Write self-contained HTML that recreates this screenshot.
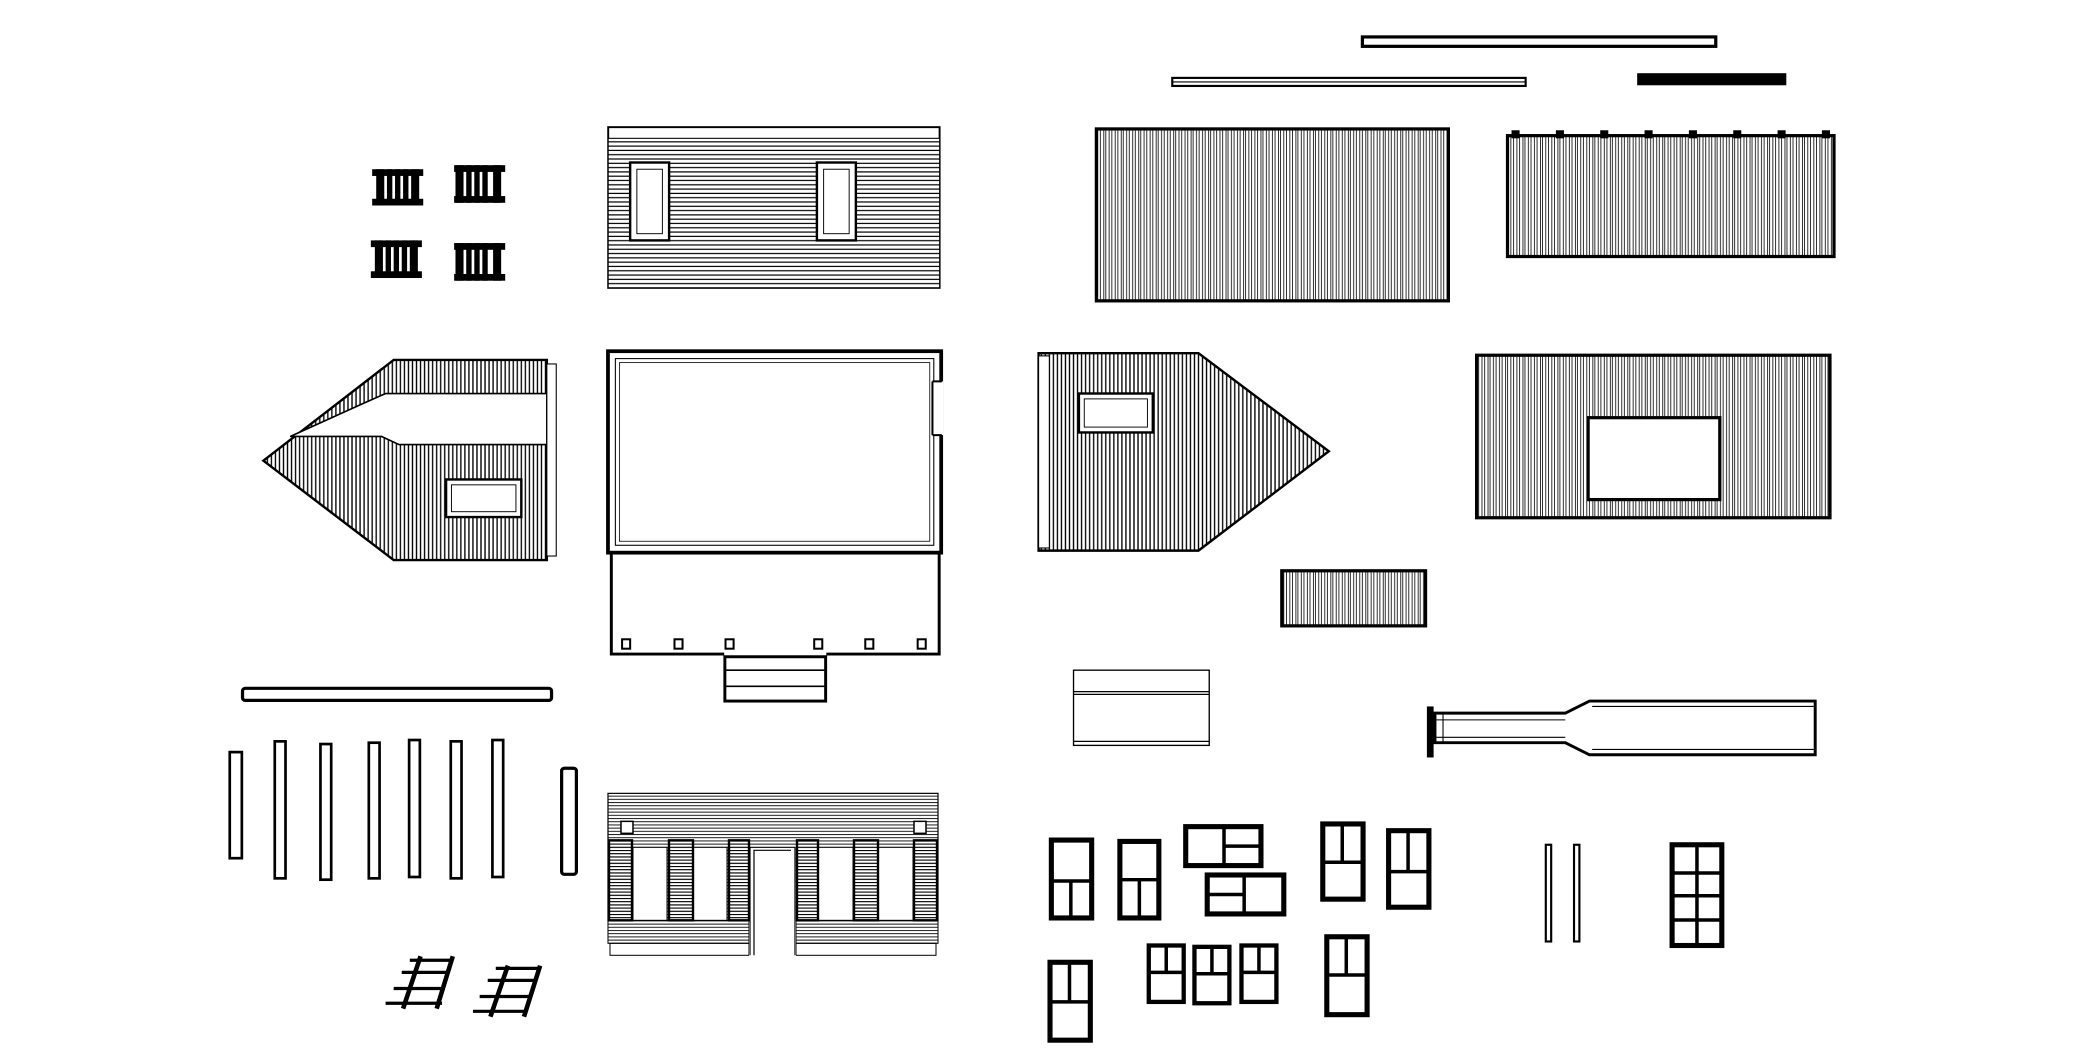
<!DOCTYPE html>
<html><head><meta charset="utf-8"><style>html,body{margin:0;padding:0;background:#fff}svg{display:block}</style></head>
<body>
<svg width="2096" height="1061" viewBox="0 0 1560 790" preserveAspectRatio="none" xmlns="http://www.w3.org/2000/svg">
<defs>
<pattern id="vh" width="13" height="10" patternUnits="userSpaceOnUse">
<path d="M1 0V10M3 0V10M5.5 0V10M7 0V10M9.5 0V10M11.5 0V10" stroke="#000" stroke-width="0.6"/>
</pattern>
<pattern id="vd" width="3" height="10" patternUnits="userSpaceOnUse">
<path d="M1 0V10" stroke="#000" stroke-width="1"/>
</pattern>
<pattern id="hh" width="10" height="3.2" patternUnits="userSpaceOnUse">
<path d="M0 1H10" stroke="#000" stroke-width="0.9"/>
</pattern>
</defs>
<g transform="translate(-3,-1)">
<g fill="none" stroke="#000">
<!-- top bars -->
<rect x="1017" y="28.5" width="263" height="7" stroke-width="2.4"/>
<rect x="875.5" y="59" width="263" height="6" stroke-width="1.6"/>
<line x1="876" y1="62" x2="1138" y2="62" stroke-width="0.8"/>
<rect x="1222" y="56" width="110" height="8" fill="#000"/>
<!-- panel A -->
<rect x="819" y="97" width="262" height="128" fill="url(#vh)" stroke-width="2.4"/>
<!-- panel B -->
<rect x="1125" y="102" width="243" height="90" fill="url(#vh)" stroke-width="2.4"/>
<g fill="#000" stroke="none">
<rect x="1128" y="98" width="6" height="6"/><rect x="1161" y="98" width="6" height="6"/><rect x="1194" y="98" width="6" height="6"/><rect x="1227" y="98" width="6" height="6"/><rect x="1260" y="98" width="6" height="6"/><rect x="1293" y="98" width="6" height="6"/><rect x="1326" y="98" width="6" height="6"/><rect x="1359" y="98" width="6" height="6"/>
</g>
<!-- small black windows -->
<g fill="#000" stroke="none">
<g transform="translate(280,127)"><rect width="38" height="5"/><rect y="22" width="38" height="5"/><rect x="3" width="6" height="27"/><rect x="11" width="4" height="27"/><rect x="17" width="4" height="27"/><rect x="23" width="4" height="27"/><rect x="29" width="6" height="27"/></g>
<g transform="translate(341,124)"><rect width="38" height="5"/><rect y="23" width="38" height="5"/><rect x="1" width="6" height="28"/><rect x="9" width="4" height="28"/><rect x="15" width="4" height="28"/><rect x="21" width="4" height="28"/><rect x="29" width="6" height="28"/></g>
<g transform="translate(279,180)"><rect width="38" height="5"/><rect y="23" width="38" height="5"/><rect x="3" width="6" height="28"/><rect x="11" width="4" height="28"/><rect x="17" width="4" height="28"/><rect x="23" width="4" height="28"/><rect x="29" width="6" height="28"/></g>
<g transform="translate(341,182)"><rect width="38" height="5"/><rect y="23" width="38" height="5"/><rect x="1" width="6" height="28"/><rect x="9" width="4" height="28"/><rect x="15" width="4" height="28"/><rect x="21" width="4" height="28"/><rect x="29" width="6" height="28"/></g>
</g>
<!-- wall panel with two windows -->
<rect x="455.5" y="95.5" width="247" height="120" fill="url(#hh)" stroke-width="1.1"/>
<rect x="456" y="96" width="246" height="8" fill="#fff" stroke-width="0.8"/>
<rect x="472" y="122" width="29" height="58" fill="#fff" stroke-width="1.8"/>
<rect x="477" y="127" width="19" height="48" stroke-width="0.7"/>
<rect x="611" y="122" width="29" height="58" fill="#fff" stroke-width="1.8"/>
<rect x="616" y="127" width="19" height="48" stroke-width="0.7"/>
<!-- left gable -->
<polygon points="199,344 296,269 410,269 410,418 296,418" fill="url(#vd)" stroke-width="1.8"/>
<polygon points="410,294 290,294 272,302 219,326 287,326 300,332 410,332" fill="#fff" stroke-width="1.2"/>
<rect x="410" y="272" width="7" height="143" fill="#fff" stroke-width="0.8"/>
<rect x="335" y="358" width="56" height="28" fill="#fff" stroke-width="1.8"/>
<rect x="339" y="362" width="48" height="20" stroke-width="0.7"/>
<!-- floor plan -->
<rect x="455.5" y="262.5" width="248" height="150" stroke-width="2.8"/>
<rect x="461" y="268" width="237" height="139" stroke-width="0.8"/>
<rect x="464" y="271" width="231" height="133" stroke-width="0.6"/>
<rect x="697" y="285" width="8" height="40" fill="#fff" stroke="none"/>
<path d="M697 285H704M697 325H704M697 285V325" stroke-width="1.5"/>
<path d="M458 413V488H542M618 488H702V413" stroke-width="2.2"/>
<g stroke-width="1.5">
<rect x="466" y="477" width="6" height="7"/><rect x="505" y="477" width="6" height="7"/><rect x="543" y="477" width="6" height="7"/><rect x="609" y="477" width="6" height="7"/><rect x="647" y="477" width="6" height="7"/><rect x="686" y="477" width="6" height="7"/>
</g>
<rect x="542.5" y="490" width="75" height="33" stroke-width="2.2"/>
<path d="M543 500H617M543 512H617" stroke-width="1.2"/>
<!-- right gable -->
<polygon points="776,264 895,264 992,337 895,411 776,411" fill="url(#vd)" stroke-width="1.8"/>
<rect x="776" y="266" width="8" height="143" fill="#fff" stroke-width="0.8"/>
<rect x="806" y="294" width="55" height="29" fill="#fff" stroke-width="1.8"/>
<rect x="810" y="298" width="47" height="21" stroke-width="0.7"/>
<!-- panel with window -->
<rect x="1102" y="265.5" width="263" height="121" fill="url(#vh)" stroke-width="2.4"/>
<rect x="1185" y="312" width="98" height="61" fill="#fff" stroke-width="2.4"/>
<!-- small panel -->
<rect x="957" y="426" width="107" height="41" fill="url(#vh)" stroke-width="2.4"/>
<!-- frame -->
<rect x="802" y="500" width="101" height="56" stroke-width="1"/>
<path d="M802 516H903M802 518H903M802 553H903" stroke-width="0.9"/>
<!-- chimney piece -->
<rect x="1065" y="527" width="5" height="38" fill="#000" stroke="none"/>
<polygon points="1071,532 1168,532 1186,523 1354,523 1354,563 1186,563 1168,554 1071,554" stroke-width="2.2"/>
<path d="M1072 537H1168M1072 550H1168M1188 527H1353M1188 559H1353M1077 532V555" stroke-width="0.8"/>
<!-- long bar -->
<rect x="183.5" y="513.5" width="230" height="9" rx="2" stroke-width="2.4"/>
<!-- posts -->
<g stroke-width="2">
<rect x="174" y="561" width="9" height="79"/>
<rect x="207.5" y="553" width="8" height="102"/>
<rect x="241.5" y="555" width="8" height="101"/>
<rect x="277.5" y="554" width="8" height="101"/>
<rect x="307.5" y="552" width="8" height="102"/>
<rect x="338.5" y="553" width="8" height="102"/>
<rect x="369.5" y="552" width="8" height="102"/>
<rect x="421" y="573" width="11" height="79" rx="2" stroke-width="2.4"/>
</g>
<!-- ladders -->
<g stroke="#000">
<path d="M303 752L316 713M328 752L340 713" stroke-width="3.4"/>
<path d="M290 748H332M296 737H334M302 725H337M308 716H340" stroke-width="2.4"/>
<path d="M368 758L381 720M393 758L405 720" stroke-width="3.4"/>
<path d="M355 754H395M360 743H398M366 731H401M372 722H404" stroke-width="2.4"/>
</g>
<!-- front wall (original coords) -->
<g transform="scale(0.7443)">
<rect x="612" y="795" width="330" height="127" fill="url(#hh)" stroke-width="1.2"/>
<rect x="612" y="922" width="141" height="23" fill="url(#hh)" stroke-width="1"/>
<rect x="800" y="922" width="142" height="23" fill="url(#hh)" stroke-width="1"/>
<rect x="614" y="945" width="139" height="12" stroke-width="1"/>
<rect x="800" y="945" width="140" height="12" stroke-width="1"/>
<rect x="753" y="848" width="47" height="112" fill="#fff" stroke="none"/>
<path d="M754 957V849H799V957M758 957V852H795" stroke-width="1.2"/>
<rect x="637" y="849" width="34" height="73" fill="#fff" stroke-width="1"/>
<rect x="697" y="849" width="34" height="73" fill="#fff" stroke-width="1"/>
<rect x="822" y="849" width="35" height="73" fill="#fff" stroke-width="1"/>
<rect x="882" y="849" width="35" height="73" fill="#fff" stroke-width="1"/>
<g fill="url(#hh)" stroke-width="2.4">
<rect x="613" y="842" width="23" height="80"/><rect x="673" y="842" width="24" height="80"/><rect x="733" y="842" width="20" height="80"/>
<rect x="801" y="842" width="21" height="80"/><rect x="858" y="842" width="24" height="80"/><rect x="918" y="842" width="23" height="80"/>
</g>
<rect x="625" y="823" width="12" height="12" fill="#fff" stroke-width="1.5"/>
<rect x="918" y="823" width="12" height="12" fill="#fff" stroke-width="1.5"/>
</g>
<!-- doors / windows -->
<g stroke="#000">
<g stroke-width="3.8">
<rect x="785.5" y="626.5" width="30" height="58"/>
<rect x="836.5" y="627.5" width="29" height="57"/>
<rect x="987.5" y="614.5" width="30" height="56"/>
<rect x="1036.5" y="619.5" width="30" height="57"/>
<rect x="784.5" y="717.5" width="30" height="58"/>
<rect x="858" y="705" width="26" height="42" stroke-width="3.2"/>
<rect x="892" y="706" width="26" height="42" stroke-width="3.2"/>
<rect x="927" y="705" width="26" height="42" stroke-width="3.2"/>
<rect x="990.5" y="698.5" width="30" height="58"/>
<rect x="885.5" y="616.5" width="56" height="29"/>
<rect x="901.5" y="652.5" width="57" height="29"/>
<rect x="1247.5" y="630" width="37" height="75"/>
</g>
<g stroke-width="2.6">
<path d="M786 657H815M800 657V684"/>
<path d="M837 656H865M851 656V684"/>
<path d="M988 643H1017M1002 615V643"/>
<path d="M1037 650H1066M1051 620V650"/>
<path d="M785 747H814M799 718V747"/>
<path d="M858 725H884M871 705V725"/>
<path d="M892 726H918M905 706V726"/>
<path d="M927 725H953M940 705V725"/>
<path d="M991 727H1020M1005 699V727"/>
<path d="M914 617V645M914 631H941"/>
<path d="M929 653V681M902 667H929"/>
<path d="M1266 630V705M1248 651H1284M1248 668H1284M1248 686H1284"/>
</g>
<rect x="1153.5" y="630" width="4" height="72" stroke-width="1.6"/>
<rect x="1174.5" y="630" width="4" height="72" stroke-width="1.6"/>
</g>
</g>
</g>
</svg>
</body></html>
